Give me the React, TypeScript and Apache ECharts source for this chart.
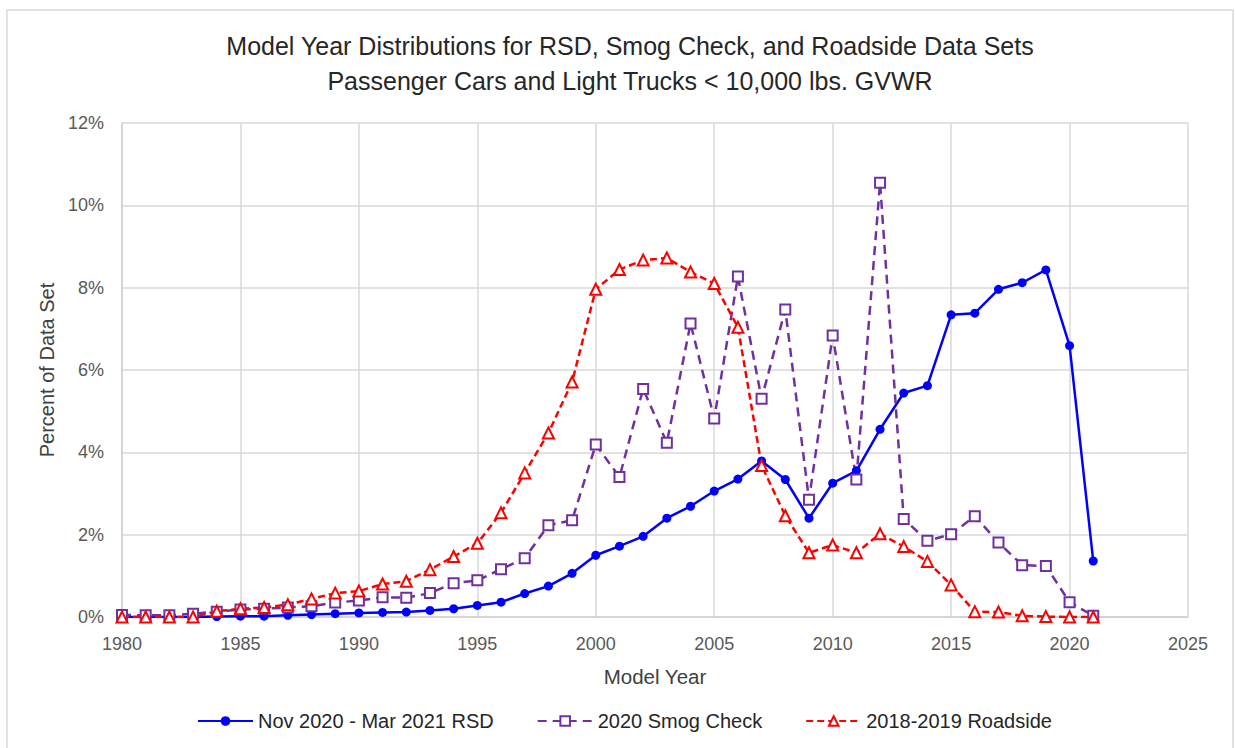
import React, { useEffect, useRef } from "react";
import * as echarts from "echarts";

const years = [
  1980, 1981, 1982, 1983, 1984, 1985, 1986, 1987, 1988, 1989, 1990, 1991, 1992, 1993,
  1994, 1995, 1996, 1997, 1998, 1999, 2000, 2001, 2002, 2003, 2004, 2005, 2006, 2007,
  2008, 2009, 2010, 2011, 2012, 2013, 2014, 2015, 2016, 2017, 2018, 2019, 2020, 2021,
];

const rsd = [
  0, 0, 0, 0, 0.01, 0.02, 0.02, 0.04, 0.06, 0.08, 0.1, 0.11, 0.12, 0.16,
  0.2, 0.28, 0.36, 0.57, 0.75, 1.06, 1.5, 1.72, 1.96, 2.4, 2.69, 3.06, 3.35, 3.79,
  3.34, 2.4, 3.25, 3.55, 4.56, 5.44, 5.62, 7.34, 7.38, 7.96, 8.12, 8.43, 6.59, 1.36,
];

const smog = [
  0.05, 0.04, 0.04, 0.08, 0.13, 0.18, 0.2, 0.23, 0.26, 0.35, 0.4, 0.48, 0.47, 0.58,
  0.82, 0.89, 1.16, 1.43, 2.23, 2.35, 4.19, 3.4, 5.54, 4.23, 7.13, 4.82, 8.27, 5.3,
  7.47, 2.85, 6.84, 3.34, 10.55, 2.38, 1.85, 2.01, 2.45, 1.81, 1.26, 1.24, 0.36, 0.03,
];

const roadside = [
  0, 0, 0, 0, 0.14, 0.2, 0.23, 0.3, 0.44, 0.58, 0.63, 0.8, 0.87, 1.15,
  1.47, 1.79, 2.53, 3.5, 4.47, 5.71, 7.96, 8.44, 8.67, 8.72, 8.38, 8.1, 7.04, 3.68,
  2.46, 1.56, 1.75, 1.56, 2.02, 1.71, 1.35, 0.78, 0.13, 0.12, 0.03, 0.01, 0, 0,
];

const seriesNames = ["Nov 2020 - Mar 2021 RSD", "2020 Smog Check", "2018-2019 Roadside"];
const titleLines = [
  "Model Year Distributions for RSD, Smog Check, and Roadside Data Sets",
  "Passenger Cars and Light Trucks < 10,000 lbs. GVWR",
];
const xName = "Model Year";
const yName = "Percent of Data Set";

const FONT = "'Liberation Sans', Arial, sans-serif";

export default function App() {
  const ref = useRef<HTMLDivElement>(null);

  useEffect(() => {
    if (!ref.current) return;
    const chart = echarts.init(ref.current, null, { renderer: "svg" });
    const pair = (arr: number[]) => years.map((y, i) => [y, arr[i]]);
    chart.setOption({
      animation: false,
      backgroundColor: "#ffffff",
      textStyle: { fontFamily: FONT },
      graphic: [
        {
          type: "rect",
          z: -1,
          shape: { x: 7, y: 10, width: 1226, height: 760 },
          style: { fill: "none", stroke: "#d9d9d9", lineWidth: 1.5 },
        },
      ],
      title: {
        text: titleLines.join("\n"),
        left: 625,
        top: 23,
        textAlign: "center",
        textStyle: {
          fontFamily: FONT,
          fontSize: 25,
          fontWeight: "normal",
          color: "#262626",
          lineHeight: 35,
        },
      },
      grid: { left: 122, right: 47, top: 123, bottom: 131, containLabel: false },
      xAxis: {
        type: "value",
        min: 1980,
        max: 2025,
        interval: 5,
        name: xName,
        nameLocation: "middle",
        nameGap: 49,
        nameTextStyle: { fontFamily: FONT, fontSize: 20.5, color: "#404040" },
        axisLine: { show: true, lineStyle: { color: "#d0d0d0", width: 1.5 } },
        axisTick: { show: false },
        axisLabel: {
          margin: 18,
          fontSize: 18,
          color: "#595959",
          fontFamily: FONT,
          formatter: (v: number) => String(v),
        },
        splitLine: { show: true, lineStyle: { color: "#d9d9d9", width: 1.5 } },
      },
      yAxis: {
        type: "value",
        min: 0,
        max: 12,
        interval: 2,
        name: yName,
        nameLocation: "middle",
        nameGap: 65,
        nameRotate: 90,
        nameTextStyle: { fontFamily: FONT, fontSize: 20, color: "#404040" },
        axisLine: { show: true, lineStyle: { color: "#d0d0d0", width: 1.5 } },
        axisTick: { show: false },
        axisLabel: {
          margin: 18,
          fontSize: 18,
          color: "#595959",
          fontFamily: FONT,
          formatter: (v: number) => `${v}%`,
        },
        splitLine: { show: true, lineStyle: { color: "#d9d9d9", width: 1.5 } },
      },
      legend: {
        left: 192,
        top: 706,
        itemWidth: 55,
        itemHeight: 12,
        itemGap: 43,
        textStyle: { fontFamily: FONT, fontSize: 20, color: "#262626" },
        data: seriesNames,
      },
      series: [
        {
          name: seriesNames[0],
          type: "line",
          data: pair(rsd),
          symbol: "circle",
          symbolSize: 9,
          lineStyle: { color: "#0000ff", width: 2.5 },
          itemStyle: { color: "#0000ff" },
        },
        {
          name: seriesNames[1],
          type: "line",
          data: pair(smog),
          symbol: "emptyRect",
          symbolSize: 10,
          lineStyle: { color: "#7030a0", width: 2.5, type: [9, 6] },
          itemStyle: { color: "#7030a0", borderWidth: 1.5 },
        },
        {
          name: seriesNames[2],
          type: "line",
          data: pair(roadside),
          symbol: "emptyTriangle",
          symbolSize: 11,
          lineStyle: { color: "#ff0000", width: 2.5, type: [7, 4] },
          itemStyle: { color: "#ff0000", borderWidth: 1.5 },
        },
      ],
    });
    return () => chart.dispose();
  }, []);

  return (
    <div
      ref={ref}
      style={{ position: "fixed", left: 0, top: 0, width: 1235, height: 748 }}
    />
  );
}
